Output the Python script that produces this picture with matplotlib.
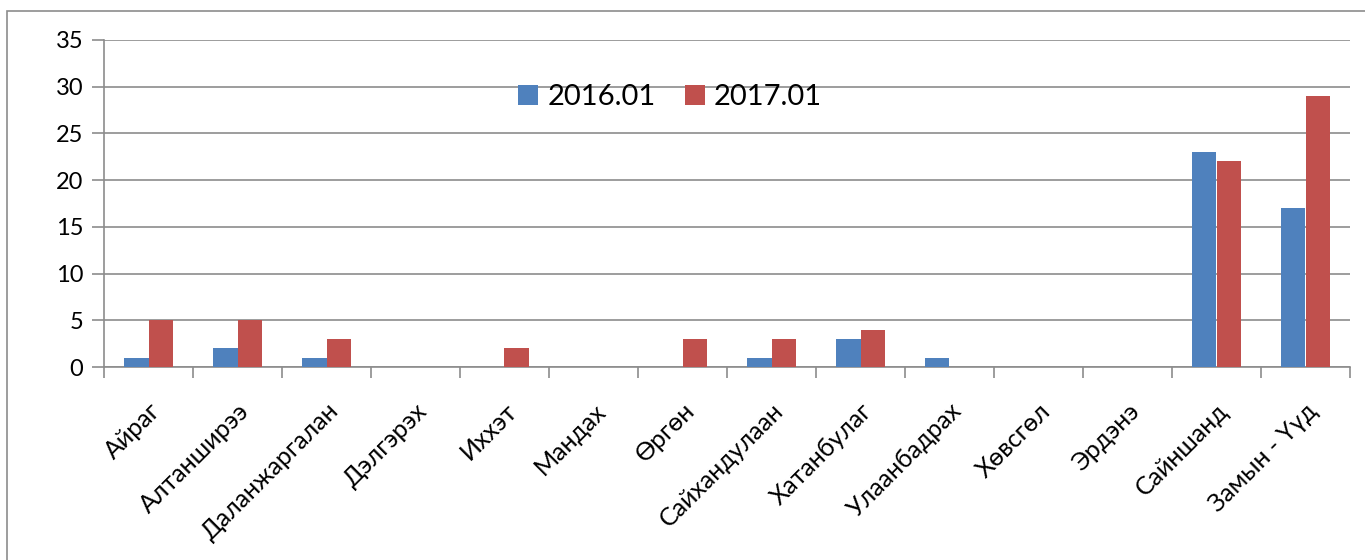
import numpy as np
import matplotlib.pyplot as plt
from matplotlib.patches import Rectangle

plt.rcParams['font.family'] = ['Lato', 'DejaVu Sans']

categories = ['Айраг', 'Алтанширээ', 'Даланжаргалан', 'Дэлгэрэх', 'Иххэт', 'Мандах',
              'Өргөн', 'Сайхандулаан', 'Хатанбулаг', 'Улаанбадрах', 'Хөвсгөл',
              'Эрдэнэ', 'Сайншанд', 'Замын - Үүд']
v2016 = [1, 2, 1, 0, 0, 0, 0, 1, 3, 1, 0, 0, 23, 17]
v2017 = [5, 5, 3, 0, 2, 0, 3, 3, 4, 0, 0, 0, 22, 29]
series_names = ['2016.01', '2017.01']
yticks = [0, 5, 10, 15, 20, 25, 30, 35]

blue = '#4f81bd'
red = '#c0504d'
grid = '#8c8c8c'

fig = plt.figure(figsize=(13.65, 5.6), dpi=100)
fig.patches.append(Rectangle((7 / 1365, -0.1), 1.2, 1 - 11 / 560 + 0.1,
                             transform=fig.transFigure, fill=False,
                             edgecolor='#8c8c8c', linewidth=1.2))
ax = fig.add_axes([104 / 1365, 1 - 367 / 560, (1350 - 104) / 1365, (367 - 40) / 560])

x = np.arange(len(categories))
w = 0.28
ax.bar(x - w / 2, v2016, w, color=blue, label=series_names[0], zorder=3)
ax.bar(x + w / 2, v2017, w, color=red, label=series_names[1], zorder=3)

ax.set_xlim(-0.5, len(categories) - 0.5)
ax.set_ylim(0, 35)
ax.set_yticks(yticks)
ax.tick_params(axis='y', length=9, width=1.2, color=grid, labelsize=17, pad=6)
ax.yaxis.grid(True, color=grid, linewidth=1.2, zorder=0)

ax.set_xticks(np.arange(len(categories) + 1) - 0.5)
ax.set_xticklabels([])
ax.tick_params(axis='x', length=8, width=1.2, color=grid)
for i, name in enumerate(categories):
    ax.annotate(name, xy=(i, 0), xycoords=('data', 'axes fraction'),
                xytext=(0, -23), textcoords='offset points',
                rotation=45, ha='right', va='top', rotation_mode='anchor',
                fontsize=18)

for side in ['top', 'right']:
    ax.spines[side].set_visible(False)
for side in ['left', 'bottom']:
    ax.spines[side].set_color(grid)
    ax.spines[side].set_linewidth(1.2)

leg = ax.legend(loc='center', bbox_to_anchor=((670 - 104) / 1246, (367 - 97) / 327),
                ncol=2, frameon=False, fontsize=21, handlelength=0.7,
                handleheight=0.7, handletextpad=0.3, columnspacing=1.0)

fig.savefig('out.png', dpi=100)
